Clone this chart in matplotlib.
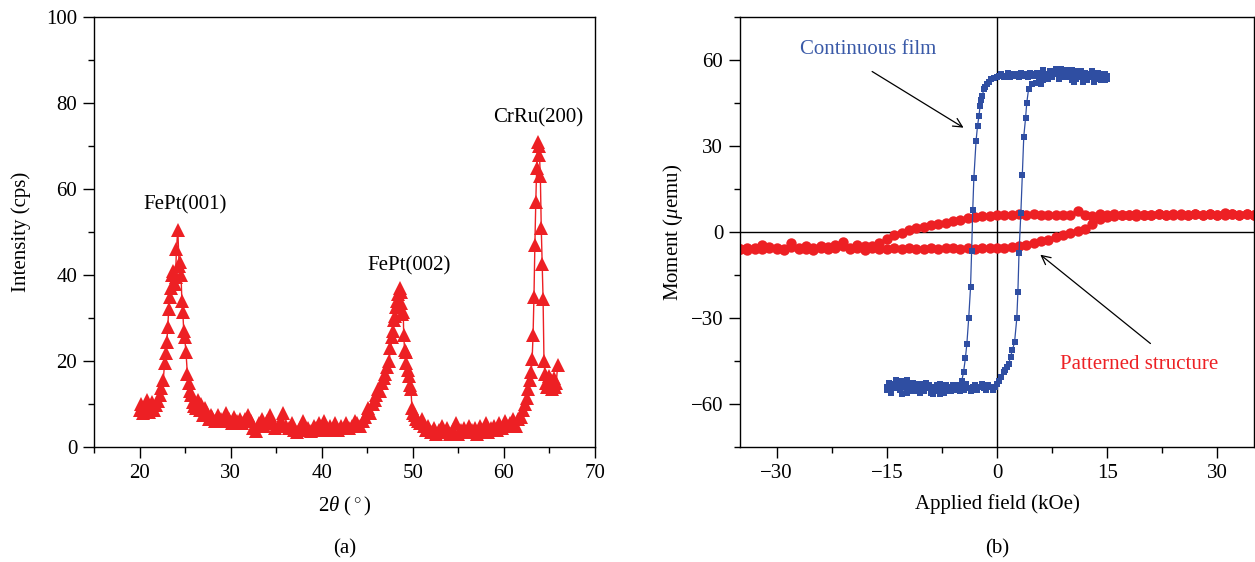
"""
XRD pattern (a) and hysteresis loops (b) for FePt films.
"""

import matplotlib
matplotlib.use('Agg')
import matplotlib.pyplot as plt
from matplotlib.ticker import MultipleLocator

# Panel (a): XRD scan
two_theta = [
	20.0, 20.2, 20.4, 20.6, 20.8, 21.0, 21.2, 21.4, 21.6, 21.8,
	22.0, 22.2, 22.4, 22.6, 22.75, 22.85, 23.0, 23.1, 23.2, 23.3,
	23.45, 23.55, 23.7, 23.85, 23.95, 24.05, 24.2, 24.35, 24.45, 24.55,
	24.65, 24.75, 24.85, 24.95, 25.1, 25.25, 25.4, 25.55, 25.7, 25.85,
	26.0, 26.2, 26.4, 26.6, 26.8, 27.0, 27.2, 27.4, 27.6, 27.8,
	28.0, 28.3, 28.6, 28.9, 29.2, 29.5, 29.8, 30.1, 30.4, 30.7,
	31.0, 31.3, 31.6, 31.9, 32.2, 32.5, 32.8, 33.1, 33.4, 33.7,
	34.0, 34.3, 34.6, 34.9, 35.2, 35.5, 35.8, 36.1, 36.4, 36.7,
	37.0, 37.3, 37.6, 37.9, 38.2, 38.5, 38.8, 39.1, 39.4, 39.7,
	40.0, 40.3, 40.6, 40.9, 41.2, 41.5, 41.8, 42.1, 42.4, 42.7,
	43.0, 43.3, 43.6, 43.9, 44.2, 44.5, 44.8, 45.1, 45.35, 45.6,
	45.85, 46.0, 46.2, 46.4, 46.6, 46.8, 47.0, 47.2, 47.4, 47.55,
	47.7, 47.8, 47.9, 48.0, 48.1, 48.25, 48.4, 48.55, 48.65, 48.75,
	48.85, 48.95, 49.0, 49.1, 49.2, 49.3, 49.45, 49.55, 49.7, 49.8,
	49.9, 50.05, 50.2, 50.4, 50.6, 50.8, 51.0, 51.2, 51.4, 51.7,
	52.0, 52.3, 52.6, 52.9, 53.2, 53.5, 53.8, 54.1, 54.4, 54.7,
	55.0, 55.3, 55.6, 55.9, 56.2, 56.5, 56.8, 57.1, 57.4, 57.7,
	58.0, 58.3, 58.6, 58.9, 59.2, 59.5, 59.8, 60.1, 60.4, 60.7,
	61.0, 61.3, 61.6, 61.9, 62.1, 62.3, 62.5, 62.7, 62.85, 63.0,
	63.1, 63.2, 63.3, 63.4, 63.5, 63.6, 63.7, 63.8, 63.9, 64.0,
	64.1, 64.2, 64.3, 64.4, 64.5, 64.6, 64.75, 64.9, 65.0, 65.15,
	65.3, 65.45, 65.6, 65.75, 65.9,
]
intensity = [
	8.5, 10.0, 7.8, 9.5, 11.0, 8.2, 9.2, 10.5, 8.6, 9.8,
	10.6, 12.0, 13.8, 15.5, 19.5, 21.8, 24.5, 28.0, 32.0, 35.0,
	37.0, 40.0, 41.0, 38.0, 39.5, 46.0, 50.5, 42.0, 43.0, 40.0,
	34.0, 31.5, 27.0, 25.5, 22.0, 17.0, 15.0, 13.0, 12.0, 10.5,
	9.5, 9.0, 11.0, 8.5, 10.0, 7.5, 9.0, 8.0, 6.5, 7.5,
	7.0, 6.0, 7.5, 6.5, 6.0, 7.8, 6.5, 5.5, 7.0, 6.0,
	6.5, 5.5, 6.5, 7.5, 6.0, 4.5, 3.8, 5.5, 6.5, 5.0,
	6.0, 7.5, 5.5, 4.5, 5.0, 6.0, 7.8, 5.0, 4.5, 5.5,
	4.0, 3.5, 4.5, 6.0, 4.0, 4.5, 3.8, 5.0, 4.5, 5.5,
	4.0, 6.0, 4.5, 5.0, 4.0, 5.5, 4.0, 5.0, 4.5, 5.5,
	4.5, 5.0, 6.0, 5.5, 5.0, 6.0, 7.0, 9.0, 8.0, 10.0,
	11.0, 12.0, 13.5, 13.0, 15.0, 16.0, 17.0, 18.5, 20.0, 23.0,
	25.5, 27.0, 29.5, 30.5, 32.5, 34.0, 35.5, 37.0, 36.0, 33.5,
	31.0, 31.5, 26.0, 22.5, 22.0, 19.5, 18.0, 16.5, 14.5, 13.5,
	9.0, 8.0, 7.5, 6.5, 6.0, 5.5, 6.5, 5.0, 4.0, 5.0,
	3.5, 4.5, 3.0, 4.0, 5.0, 3.5, 4.5, 3.0, 4.0, 5.5,
	3.0, 4.0, 4.5, 3.5, 5.0, 4.0, 4.5, 3.0, 5.0, 4.0,
	5.5, 3.5, 4.5, 5.0, 4.0, 5.5, 4.5, 6.0, 5.0, 5.5,
	6.5, 5.0, 6.5, 7.0, 8.5, 10.0, 11.5, 13.5, 15.5, 17.5,
	20.5, 26.0, 35.0, 47.0, 57.0, 65.0, 71.0, 70.0, 68.0, 63.0,
	51.0, 42.5, 34.5, 20.0, 17.0, 15.0, 14.0, 16.5, 14.5, 15.5,
	13.5, 16.0, 14.0, 15.0, 19.0,
]
peak_labels = ['FePt(001)', 'FePt(002)', 'CrRu(200)']
peak_label_pos = [(25.0, 56.3), (49.6, 42.2), (63.8, 76.5)]

# Panel (b): continuous film loop, field swept down then up (kOe, uemu)
film_field_down = [
	15.0, 14.7, 14.4, 14.1, 13.8, 13.5, 13.2, 12.9, 12.6, 12.3,
	12.0, 11.7, 11.4, 11.1, 10.8, 10.5, 10.2, 9.9, 9.6, 9.3,
	9.0, 8.7, 8.4, 8.1, 7.8, 7.5, 7.2, 6.9, 6.6, 6.3,
	6.0, 5.7, 5.4, 5.1, 4.8, 4.5, 4.2, 3.9, 3.6, 3.3,
	3.0, 2.7, 2.4, 2.1, 1.8, 1.5, 1.2, 0.9, 0.6, 0.3,
	0.0, -0.4, -0.8, -1.1, -1.35, -1.6, -1.8, -2.0, -2.15, -2.3,
	-2.45, -2.65, -2.85, -3.15, -3.3, -3.45, -3.6, -3.85, -4.1, -4.3,
	-4.55, -4.8, -5.1, -5.4, -5.7, -6.0, -6.3, -6.6, -6.9, -7.2,
	-7.5, -7.8, -8.1, -8.4, -8.7, -9.0, -9.3, -9.6, -9.9, -10.2,
	-10.5, -10.8, -11.1, -11.4, -11.7, -12.0, -12.3, -12.6, -12.9, -13.2,
	-13.5, -13.8, -14.1, -14.4, -14.7, -15.0,
]
film_moment_down = [
	53.5, 55.0, 53.0, 54.5, 55.5, 53.5, 54.0, 56.0, 54.5, 53.0,
	55.0, 54.0, 56.0, 55.0, 53.5, 54.5, 56.5, 55.0, 54.0, 55.5,
	56.0, 54.5, 55.0, 57.0, 55.5, 54.0, 56.0, 55.0, 54.5, 56.5,
	55.0, 54.0, 55.5, 54.5, 55.0, 55.5, 54.0, 55.0, 54.5, 55.5,
	54.0, 55.0, 54.5, 55.0, 54.0, 55.5, 54.5, 54.0, 55.0, 54.5,
	54.0, 53.8, 53.3, 52.5, 51.6, 50.5, 49.8, 47.5, 46.0, 44.0,
	40.5, 37.0, 31.7, 18.7, 7.6, -6.5, -19.3, -30.1, -39.0, -44.0,
	-48.8, -52.0, -53.5, -54.5, -55.0, -53.5, -55.5, -54.0, -55.0, -56.0,
	-54.5, -53.0, -55.0, -54.0, -56.5, -55.0, -53.5, -54.5, -55.5, -54.0,
	-53.0, -55.5, -54.0, -52.5, -55.0, -53.5, -56.0, -54.0, -52.0, -55.0,
	-53.5, -51.5, -54.5, -56.0, -53.0, -55.0,
]
film_field_up = [
	-15.0, -14.7, -14.4, -14.1, -13.8, -13.5, -13.2, -12.9, -12.6, -12.3,
	-12.0, -11.7, -11.4, -11.1, -10.8, -10.5, -10.2, -9.9, -9.6, -9.3,
	-9.0, -8.7, -8.4, -8.1, -7.8, -7.5, -7.2, -6.9, -6.6, -6.3,
	-6.0, -5.7, -5.4, -5.1, -4.8, -4.5, -4.2, -3.9, -3.6, -3.3,
	-3.0, -2.7, -2.4, -2.1, -1.8, -1.5, -1.2, -0.9, -0.6, -0.3,
	0.0, 0.3, 0.6, 0.9, 1.1, 1.35, 1.6, 1.85, 2.1, 2.4,
	2.7, 2.85, 3.0, 3.25, 3.45, 3.65, 3.9, 4.05, 4.3, 4.8,
	5.3, 5.7, 6.0, 6.3, 6.6, 6.9, 7.2, 7.5, 7.8, 8.1,
	8.4, 8.7, 9.0, 9.3, 9.6, 9.9, 10.2, 10.5, 10.8, 11.1,
	11.4, 11.7, 12.0, 12.3, 12.6, 12.9, 13.2, 13.5, 13.8, 14.1,
	14.4, 14.7, 15.0,
]
film_moment_up = [
	-54.0, -52.5, -55.5, -53.0, -51.5, -54.5, -52.0, -56.5, -53.5, -51.5,
	-54.0, -52.5, -55.5, -53.0, -54.5, -56.0, -53.5, -55.0, -52.5, -54.5,
	-56.0, -54.0, -55.5, -53.5, -56.5, -54.5, -55.0, -53.5, -55.5, -54.0,
	-55.0, -53.5, -54.5, -55.5, -54.0, -55.0, -53.0, -54.5, -55.5, -54.0,
	-53.5, -55.0, -54.0, -53.0, -54.5, -55.0, -53.5, -54.0, -55.0, -54.0,
	-53.0, -52.0, -50.5, -49.0, -48.2, -47.0, -45.9, -43.5, -41.2, -38.3,
	-30.1, -20.8, -7.4, 6.5, 19.8, 33.3, 39.9, 44.9, 49.8, 51.6,
	52.0, 53.5, 51.5, 53.0, 54.5, 53.5, 55.5, 54.0, 56.0, 55.0,
	53.5, 57.0, 55.0, 54.0, 56.5, 55.5, 53.0, 52.5, 54.5, 56.0,
	54.0, 52.5, 55.5, 53.5, 55.0, 54.0, 52.5, 55.5, 54.0, 53.0,
	55.0, 53.0, 54.5,
]

# Panel (b): patterned structure loop, same field steps both ways
pattern_field = [
	35, 34, 33, 32, 31, 30, 29, 28, 27, 26,
	25, 24, 23, 22, 21, 20, 19, 18, 17, 16,
	15, 14, 13, 12, 11, 10, 9, 8, 7, 6,
	5, 4, 3, 2, 1, 0, -1, -2, -3, -4,
	-5, -6, -7, -8, -9, -10, -11, -12, -13, -14,
	-15, -16, -17, -18, -19, -20, -21, -22, -23, -24,
	-25, -26, -27, -28, -29, -30, -31, -32, -33, -34,
	-35,
]
# moment while the field goes 35 -> -35
pattern_moment_down = [
	6.0, 6.3, 5.8, 6.2, 6.6, 6.0, 6.2, 5.9, 6.4, 6.1,
	5.9, 6.3, 5.8, 6.2, 6.0, 5.9, 6.3, 6.1, 5.8, 6.4,
	6.0, 6.2, 5.7, 6.0, 7.2, 6.0, 5.8, 6.1, 6.0, 5.9,
	6.2, 6.0, 6.3, 5.8, 6.0, 5.9, 5.7, 5.5, 5.2, 4.9,
	4.3, 3.7, 3.2, 2.8, 2.3, 1.9, 1.3, 0.6, -0.3, -1.2,
	-2.6, -3.9, -4.8, -5.0, -4.7, -5.4, -5.0, -4.6, -5.3, -5.0,
	-5.7, -4.8, -5.5, -5.3, -5.8, -5.5, -5.2, -4.4, -5.8, -5.5,
	-6.0,
]
# moment while the field goes -35 -> 35
pattern_moment_up = [
	-5.8, -6.2, -5.6, -6.0, -5.4, -5.9, -6.3, -4.0, -6.0, -5.8,
	-6.1, -5.7, -6.0, -5.5, -3.4, -5.9, -5.6, -6.1, -5.5, -5.8,
	-6.0, -5.7, -5.9, -5.6, -5.8, -6.0, -5.6, -5.9, -5.7, -5.5,
	-5.8, -5.6, -5.9, -5.5, -5.7, -5.4, -5.6, -5.3, -5.0, -4.6,
	-3.8, -3.3, -2.7, -1.9, -1.0, -0.3, 0.4, 1.2, 2.8, 4.5,
	5.2, 5.6, 5.9, 6.1, 5.7, 6.1, 5.9, 6.2, 6.0, 5.8,
	6.3, 6.0, 6.2, 5.9, 6.4, 6.1, 5.9, 6.3, 6.0, 6.2,
	5.9,
]

RED = '#ed2024'
BLUE = '#2f4ea2'

plt.rcParams['font.family'] = ['Liberation Serif', 'DejaVu Serif']
plt.rcParams['mathtext.fontset'] = 'custom'
plt.rcParams['mathtext.rm'] = 'Liberation Serif'
plt.rcParams['mathtext.it'] = 'Liberation Serif:italic'
plt.rcParams['font.size'] = 15


def _style_axis(ax) -> None:
	"""Outward ticks on left/bottom only, full box frame."""
	for spine in ax.spines.values():
		spine.set_linewidth(1.0)
	ax.tick_params(which='both', direction='out', top=False, right=False, width=1.0, labelsize=15)
	ax.tick_params(which='major', length=8, pad=4)
	ax.tick_params(which='minor', length=4.5)


fig = plt.figure(figsize=(12.55, 5.62), dpi=100)

# Panel (a)
ax = fig.add_axes([0.0749, 0.2046, 0.3992, 0.7651])
ax.plot(two_theta, intensity, color=RED, linewidth=1.0, marker='^',
	markersize=9.5, markeredgewidth=0)
ax.set_xlim(15, 70)
ax.set_ylim(0, 100)
ax.xaxis.set_major_locator(MultipleLocator(10))
ax.xaxis.set_minor_locator(MultipleLocator(5))
ax.yaxis.set_major_locator(MultipleLocator(20))
ax.yaxis.set_minor_locator(MultipleLocator(10))
_style_axis(ax)
ax.set_xlabel(r'$2\theta$ ($^\circ$)', labelpad=9)
ax.set_ylabel('Intensity (cps)', labelpad=11)
for label, (lx, ly) in zip(peak_labels, peak_label_pos):
	ax.text(lx, ly, label, ha='center', va='center', fontsize=15)

# Panel (b)
ax = fig.add_axes([0.5896, 0.2046, 0.4096, 0.7651])
ax.axhline(0, color='black', linewidth=1.0, zorder=1)
ax.axvline(0, color='black', linewidth=1.0, zorder=1)
ax.plot(pattern_field, pattern_moment_down, color=RED, linewidth=0.8,
	marker='o', markersize=7.5, markeredgewidth=0, zorder=2)
ax.plot(pattern_field[::-1], pattern_moment_up, color=RED, linewidth=0.8,
	marker='o', markersize=7.5, markeredgewidth=0, zorder=2)
ax.plot(film_field_down, film_moment_down, color=BLUE, linewidth=0.9,
	marker='s', markersize=4.6, markeredgewidth=0, zorder=3)
ax.plot(film_field_up, film_moment_up, color=BLUE, linewidth=0.9,
	marker='s', markersize=4.6, markeredgewidth=0, zorder=3)
ax.set_xlim(-35, 35)
ax.set_ylim(-75, 75)
ax.xaxis.set_major_locator(MultipleLocator(15))
ax.xaxis.set_minor_locator(MultipleLocator(7.5))
ax.yaxis.set_major_locator(MultipleLocator(30))
ax.yaxis.set_minor_locator(MultipleLocator(15))
_style_axis(ax)
ax.set_xlabel('Applied field (kOe)', labelpad=8)
ax.set_ylabel(r'Moment ($\mu$emu)', labelpad=4)

ax.text(-17.6, 63.6, 'Continuous film', color='#3a5aa8', ha='center', va='center', fontsize=15)
ax.annotate('', xy=(-4.55, 36.4), xytext=(-17.0, 56.0),
	arrowprops=dict(arrowstyle='->', color='black', linewidth=0.9,
		shrinkA=0, shrinkB=0, mutation_scale=16))
ax.text(19.4, -46.2, 'Patterned structure', color=RED, ha='center', va='center', fontsize=15)
ax.annotate('', xy=(5.9, -7.9), xytext=(20.9, -38.9),
	arrowprops=dict(arrowstyle='->', color='black', linewidth=0.9,
		shrinkA=0, shrinkB=0, mutation_scale=16))

# Panel letters
fig.text(0.2745, 0.024, '(a)', ha='center', va='center', fontsize=15)
fig.text(0.7944, 0.024, '(b)', ha='center', va='center', fontsize=15)

plt.savefig('out.png', dpi=100)
plt.close()
